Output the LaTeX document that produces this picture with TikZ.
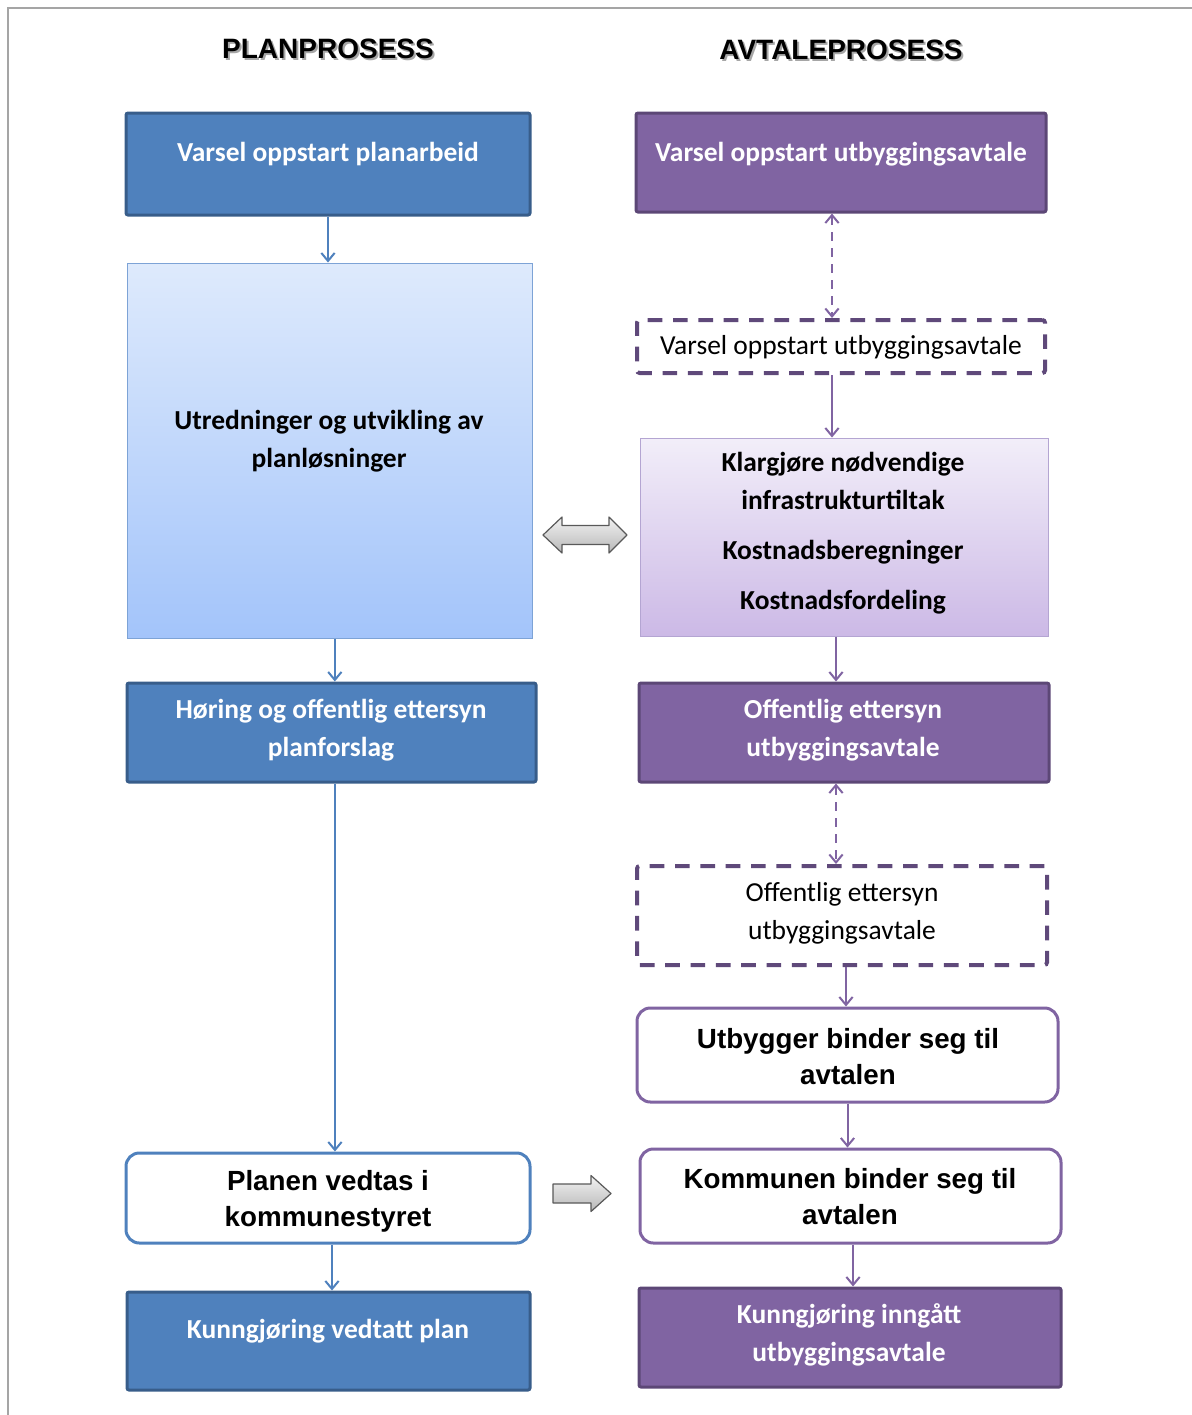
\documentclass[tikz,border=0pt]{standalone}
\usepackage{fontspec}
\setmainfont{Carlito}
\newfontfamily\arialfont{Liberation Sans}
\usetikzlibrary{arrows.meta}
\definecolor{planblue}{RGB}{79,129,189}
\definecolor{planblueline}{RGB}{56,93,138}
\definecolor{avtpurple}{RGB}{128,100,162}
\definecolor{avtpurpleline}{RGB}{92,71,118}
\definecolor{dashpurple}{RGB}{95,73,122}
\definecolor{bluetop}{RGB}{222,234,252}
\definecolor{bluebot}{RGB}{163,196,250}
\definecolor{blueedge}{RGB}{125,163,214}
\definecolor{purptop}{RGB}{242,238,249}
\definecolor{purpbot}{RGB}{204,185,230}
\definecolor{purpedge}{RGB}{180,165,210}
\definecolor{framegray}{RGB}{165,165,165}
\tikzset{
  bluebox/.style={draw=planblueline, fill=planblue, line width=2.25pt, rounded corners=1.5pt},
  purplebox/.style={draw=avtpurpleline, fill=avtpurple, line width=2.25pt, rounded corners=1.5pt},
  bluefade/.style={draw=blueedge, top color=bluetop, bottom color=bluebot, line width=0.75pt},
  purplefade/.style={draw=purpedge, top color=purptop, bottom color=purpbot, line width=0.75pt},
  dashbox/.style={draw=dashpurple, fill=white, line width=3pt, dash pattern=on 11pt off 8pt, rounded corners=2pt},
  roundblue/.style={draw=planblue, fill=white, line width=2.25pt, rounded corners=10pt},
  roundpurple/.style={draw=avtpurple, fill=white, line width=2.25pt, rounded corners=10pt},
  boxtext/.style={inner sep=0pt, align=center, font=\fontsize{20.6}{28.5}\selectfont},
  whitetext/.style={boxtext, text=white, font=\fontsize{20.6}{28.5}\selectfont\bfseries},
  blacktext/.style={boxtext, font=\fontsize{20.6}{28.5}\selectfont\bfseries},
  ariatext/.style={inner sep=0pt, align=center, font=\arialfont\fontsize{20.8}{27}\selectfont\bfseries},
  headtext/.style={inner sep=0pt, font=\arialfont\fontsize{21}{25}\selectfont\bfseries},
  bluearrow/.style={draw=planblue, line width=1.5pt, -{Straight Barb[length=6pt,width=10pt]}},
  purplearrow/.style={draw=avtpurple, line width=1.5pt, -{Straight Barb[length=6pt,width=10pt]}},
  purpledash/.style={purplearrow, {Straight Barb[length=6pt,width=10pt]}-{Straight Barb[length=6pt,width=10pt]}, dash pattern=on 7pt off 5pt},
  blockarrow/.style={draw=black!65, top color=black!5, bottom color=black!28, line width=0.9pt, line join=round}
}
\begin{document}
\begin{tikzpicture}[x=0.75pt,y=0.75pt,yscale=-1,xscale=1]
\useasboundingbox (0,0) rectangle (1192,1415);
%Frame
\draw [framegray, line width=1.5pt] (8,1415) -- (8,8) -- (1192,8);
% Headers
\node [headtext, text=black!35] (hplanshadow) at (330,51) {PLANPROSESS};
\node [headtext] (hplan) at (328,49) {PLANPROSESS};
\node [headtext, text=black!35] (havtshadow) at (843,52) {AVTALEPROSESS};
\node [headtext] (havt) at (841,50) {AVTALEPROSESS};
%Shape: left column
\node [bluebox, minimum width=303pt, minimum height=76.5pt] (b1) at (328,164) {};
\node [bluefade, minimum width=303.75pt, minimum height=281.25pt] (b2) at (329.5,450.5) {};
\node [bluebox, minimum width=306.75pt, minimum height=74.25pt] (b3) at (331.5,732.5) {};
\node [roundblue, minimum width=303pt, minimum height=67.5pt] (b4) at (328,1198) {};
\node [bluebox, minimum width=302.25pt, minimum height=73.5pt] (b5) at (328.5,1341) {};
%Shape: right column
\node [purplebox, minimum width=307.5pt, minimum height=74.25pt] (r1) at (841,162.5) {};
\node [dashbox, minimum width=306pt, minimum height=39.75pt] (r2) at (841,346.5) {};
\node [purplefade, minimum width=306pt, minimum height=148.5pt] (r3) at (844,537) {};
\node [purplebox, minimum width=307.5pt, minimum height=74.25pt] (r4) at (844,732.5) {};
\node [dashbox, minimum width=307.5pt, minimum height=74.25pt] (r5) at (842,915.5) {};
\node [roundpurple, minimum width=315.75pt, minimum height=70.5pt] (r6) at (847.5,1055) {};
\node [roundpurple, minimum width=315.75pt, minimum height=70.5pt] (r7) at (850.5,1196) {};
\node [purplebox, minimum width=316.5pt, minimum height=74.25pt] (r8) at (850,1337.5) {};
% Text Node
\node [whitetext] (tb1) at (328,154) {Varsel oppstart planarbeid};
\node [blacktext] (tb2) at (329,441) {Utredninger og utvikling av\\planløsninger};
\node [whitetext] (tb3) at (331,730) {Høring og offentlig ettersyn\\planforslag};
\node [ariatext] (tb4) at (328,1201) {Planen vedtas i\\kommunestyret};
\node [whitetext] (tb5) at (328,1331) {Kunngjøring vedtatt plan};
\node [whitetext] (tr1) at (841,154) {Varsel oppstart utbyggingsavtale};
\node [boxtext] (tr2) at (841,347) {Varsel oppstart utbyggingsavtale};
\node [blacktext] (tr3) at (843,533.5) {Klargjøre nødvendige\\infrastrukturtiltak\\[9pt]Kostnadsberegninger\\[9pt]Kostnadsfordeling};
\node [whitetext] (tr4) at (843,730) {Offentlig ettersyn\\utbyggingsavtale};
\node [boxtext] (tr5) at (842,913) {Offentlig ettersyn\\utbyggingsavtale};
\node [ariatext] (tr6) at (848,1056.5) {Utbygger binder seg til\\avtalen};
\node [ariatext] (tr7) at (850,1197) {Kommunen binder seg til\\avtalen};
\node [whitetext] (tr8) at (849,1335) {Kunngjøring inngått\\utbyggingsavtale};
%Straight Lines
\draw [bluearrow] (b1.south) -- (b1.south |- b2.north);
\draw [bluearrow] ([xshift=4pt]b2.south) -- ([xshift=4pt]b2.south |- b3.north);
\draw [bluearrow] ([xshift=2.6pt]b3.south) -- ([xshift=2.6pt]b3.south |- b4.north);
\draw [bluearrow] ([xshift=3pt]b4.south) -- ([xshift=3pt]b4.south |- b5.north);
\draw [purpledash] ([xshift=-6.75pt]r1.south) -- ([xshift=-6.75pt]r1.south |- r2.north);
\draw [purplearrow] ([xshift=-6.75pt]r2.south) -- ([xshift=-6.75pt]r2.south |- r3.north);
\draw [purplearrow] ([xshift=-6pt]r3.south) -- ([xshift=-6pt]r3.south |- r4.north);
\draw [purpledash] ([xshift=-6pt]r4.south) -- ([xshift=-6pt]r4.south |- r5.north);
\draw [purplearrow] ([xshift=3pt]r5.south) -- ([xshift=3pt]r5.south |- r6.north);
\draw [purplearrow] (r6.south) -- (r6.south |- r7.north);
\draw [purplearrow] ([xshift=1.9pt]r7.south) -- ([xshift=1.9pt]r7.south |- r8.north);
%Shape: block arrows
\draw [blockarrow] (543,535) -- (562,517) -- (562,525.5) -- (609,525.5) -- (609,517) -- (627,535) -- (609,553) -- (609,544.5) -- (562,544.5) -- (562,553) -- cycle;
\draw [blockarrow] (553,1184) -- (591,1184) -- (591,1175.5) -- (611,1193.5) -- (591,1211.5) -- (591,1203) -- (553,1203) -- cycle;
\end{tikzpicture}
\end{document}
